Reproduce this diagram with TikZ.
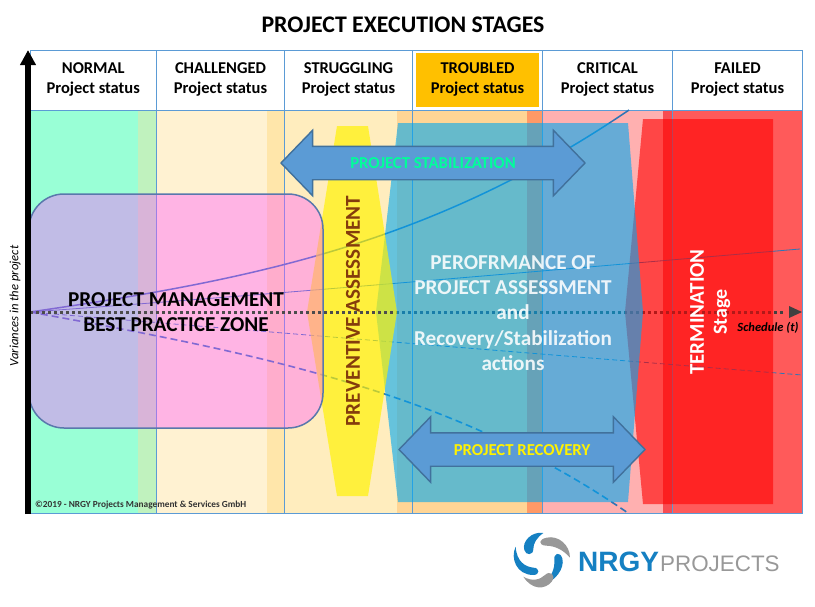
\documentclass[tikz,border=0pt]{standalone}
\usepackage{fontspec}
\setmainfont{Carlito}
\newfontfamily\logofont{Liberation Sans}
\usetikzlibrary{shapes.arrows,arrows.meta}
\definecolor{gridblue}{HTML}{5B9BD5}
\definecolor{arrowedge}{HTML}{41719C}
\definecolor{rectedge}{HTML}{5A78AC}
\definecolor{curveblue}{HTML}{2E75B6}
\definecolor{logoblue}{HTML}{1580C2}
\definecolor{logogray}{HTML}{989898}
\definecolor{prevbrown}{HTML}{843C0C}
\definecolor{troubledfill}{HTML}{FFC000}
\definecolor{stagecyan}{HTML}{00A8F0}
\definecolor{zonepink}{HTML}{FF58FF}
\definecolor{stabgreen}{HTML}{00FF99}
\tikzset{
    cell/.style={draw=gridblue,line width=0.8pt,minimum width=#1,minimum height=60pt,inner sep=0pt},
    curve/.style={curveblue,line width=0.8pt},
    schedule/.style={line width=3pt,dash pattern=on 2.8pt off 3.2pt},
    bigarrow/.style={double arrow,draw=arrowedge,fill=gridblue,line width=1.4pt,inner xsep=0pt,inner ysep=10.5pt,
        text height=11pt,text depth=0pt,double arrow head extend=16pt,double arrow tip angle=92,
        font=\bfseries\fontsize{16.7}{18}\selectfont}
}
\begin{document}
\begin{tikzpicture}[x=1pt,y=-1pt]
    \useasboundingbox (0,0) rectangle (815,606);
    % status bands
    \foreach \xa/\xb/\bandcol in {30/138/99FFD6,138/156.5/C0F2BE,156.5/267/FFF2D2,267/284.5/FFE6AA,
        284.5/397/FFEDBE,397/527/FFD595,527/542.5/FF9966,542.5/663/FFB0B0,663/672.5/F84C52,672.5/802.5/FF5A5A}{
        \definecolor{bandtmp}{HTML}{\bandcol}
        \fill[bandtmp] (\xa,110) rectangle (\xb,513);
    }
    % header
    \node (title) at (403,25) {\bfseries\fontsize{23.8}{26}\selectfont PROJECT EXECUTION STAGES};
    \foreach \cellname/\xmid/\cellw in {normal/93.25/126.5,challenged/220.5/128,struggling/348.5/128,
        troubled/477.5/130,critical/607.5/130,failed/737.5/130}{
        \node[cell=\cellw pt] (\cellname) at (\xmid,80.25) {};
    }
    \node[fill=troubledfill,inner sep=0pt,minimum width=123pt,minimum height=54pt] (troubledbox) at (477.5,80) {};
    \foreach \cellname/\status in {normal/NORMAL,challenged/CHALLENGED,struggling/STRUGGLING,
        troubled/TROUBLED,critical/CRITICAL,failed/FAILED}{
        \node[align=center,font=\bfseries\fontsize{16.5}{20}\selectfont,inner sep=0pt] (\cellname text) at ([yshift=1pt]\cellname.center) {\strut\status\\\strut Project status};
    }
    % column lines in the body
    \foreach \xa in {156.5,284.5,412.5,542.5,672.5,802.5}{
        \draw[gridblue,line width=0.8pt] (\xa,110) -- (\xa,513);
    }
    \draw[gridblue,line width=0.8pt] (30,513) -- (802.5,513);
    % variance curves
    \coordinate (origin) at (30,312);
    \coordinate (overlayend) at (396,312);
    \draw[schedule,color=black!75] (origin) -- (785,312);
    \draw[curve,line width=1.5pt] (origin) .. controls (250,280) and (430,245) .. (629,110);
    \draw[curve] (origin) .. controls (280,294) and (540,271) .. (800,249);
    \draw[curve,dash pattern=on 5pt off 3pt] (origin) .. controls (280,333) and (540,354) .. (802,375);
    \draw[curve,line width=1.6pt,dash pattern=on 7pt off 4pt] (origin) .. controls (250,352) and (450,390) .. (628,513);
    % stages
    \fill[red,fill opacity=0.6] (643,119) -- (773,119) -- (773,504) -- (643,504) -- (625,312) -- cycle;
    \fill[stagecyan,fill opacity=0.6] (398,123) -- (628,123) -- (643,312) -- (628,502) -- (398,502) -- (376,312) -- cycle;
    \fill[yellow,fill opacity=0.68] (337,126) -- (368,126) -- (397,312) -- (368,496) -- (337,496) -- (307,312) -- cycle;
    \draw[rectedge,line width=1.5pt,rounded corners=35pt,fill=zonepink,fill opacity=0.4] (29,194) rectangle (323,428);
    \draw[schedule,color=black!70] (origin) -- (overlayend);
    % axes
    \draw[line width=5.4pt,-{Triangle[length=15pt,width=15pt]}] (28,514) -- (28,50);
    \fill[black!75] (789,306) -- (802,312) -- (789,318) -- cycle;
    % arrows
    \node[bigarrow,minimum height=304pt] (stabilization) at (433,163) {\textcolor{stabgreen}{PROJECT STABILIZATION}};
    \node[bigarrow,minimum height=246pt] (recovery) at (522,449.5) {\textcolor{yellow}{PROJECT RECOVERY}};
    % labels
    \node[align=center,font=\bfseries\fontsize{21.2}{25.5}\selectfont,inner sep=0pt] (pmzone) at (176,312) {PROJECT MANAGEMENT\\BEST PRACTICE ZONE};
    \node[rotate=90,text=prevbrown,font=\bfseries\fontsize{21.2}{24}\selectfont,inner sep=0pt] (preventive) at (353,311) {PREVENTIVE ASSESSMENT};
    \node[align=center,text=white,text opacity=0.88,font=\bfseries\fontsize{21.2}{25.3}\selectfont,inner sep=0pt] (performance) at (513,313) {PEROFRMANCE OF\\PROJECT ASSESSMENT\\and\\Recovery/Stabilization\\actions};
    \node[rotate=90,text=white,font=\bfseries\fontsize{21}{24}\selectfont,inner sep=0pt] (termination) at (697,312) {TERMINATION};
    \node[rotate=90,text=white,font=\bfseries\fontsize{20}{22}\selectfont,inner sep=0pt] (stage) at (722,312) {Stage};
    \node[font=\bfseries\itshape\fontsize{12.5}{14}\selectfont,inner sep=0pt] (scheduletext) at (768,328) {Schedule (t)};
    \node[rotate=90,font=\itshape\fontsize{12.7}{14}\selectfont,inner sep=0pt] (variances) at (15,306) {Variances in the project};
    \node[anchor=west,text=black!80,font=\bfseries\fontsize{9.3}{11}\selectfont,inner sep=0pt] (copyright) at (35,505) {©2019 - NRGY Projects Management \& Services GmbH};
    % logo
    \begin{scope}[shift={(505,525)},x=0.3333pt,y=-0.3333pt]
        \fill[logoblue] (115,24) .. controls (80,18) and (50,50) .. (58,75) .. controls (62,92) and (85,92) .. (85,72) .. controls (85,55) and (95,38) .. (115,24) -- cycle;
        \fill[logoblue] (32,65) .. controls (15,100) and (35,150) .. (85,150) .. controls (105,150) and (105,128) .. (85,128) .. controls (60,125) and (35,110) .. (32,65) -- cycle;
        \fill[logoblue] (115,178) .. controls (150,170) and (180,130) .. (172,100) .. controls (165,78) and (145,85) .. (148,105) .. controls (150,130) and (140,155) .. (115,178) -- cycle;
        \fill[logogray] (195,98) .. controls (195,60) and (160,30) .. (125,38) .. controls (100,43) and (100,60) .. (122,62) .. controls (150,62) and (175,75) .. (195,98) -- cycle;
        \fill[logogray] (55,155) .. controls (80,195) and (120,195) .. (140,170) .. controls (155,150) and (135,135) .. (120,150) .. controls (105,165) and (80,170) .. (55,155) -- cycle;
    \end{scope}
    \node[anchor=base west,text=logoblue,font=\logofont\bfseries\fontsize{28}{30}\selectfont,inner sep=0pt] (nrgy) at (578,571) {NRGY};
    \node[anchor=base west,text=logogray,font=\logofont\fontsize{22.4}{24}\selectfont,inner sep=0pt] (projects) at (660,571) {PROJECTS};
\end{tikzpicture}
\end{document}
